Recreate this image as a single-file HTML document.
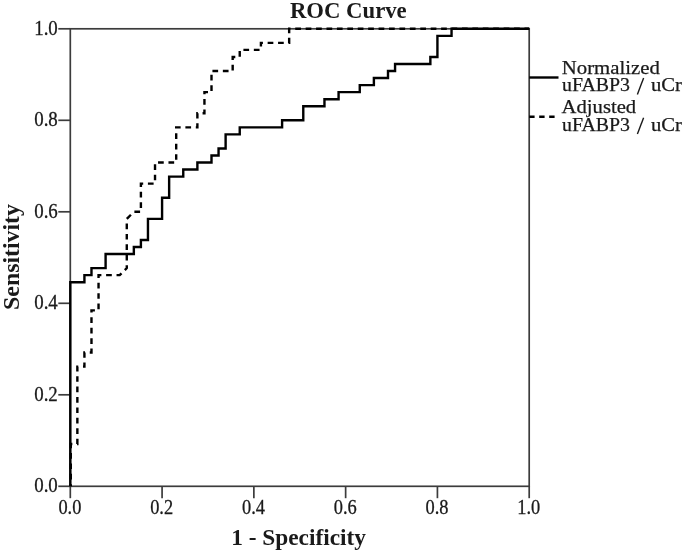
<!DOCTYPE html>
<html><head><meta charset="utf-8"><style>
html,body{margin:0;padding:0;background:#fff;}
svg{display:block;will-change:transform;}
text{font-family:"Liberation Serif",serif;fill:#1a1a1a;}
</style></head><body>
<svg width="685" height="553" viewBox="0 0 685 553">
<rect x="0" y="0" width="685" height="553" fill="#fff"/>
<g stroke="#3c3c3c" stroke-width="1.7" fill="none">
<rect x="70.3" y="28.8" width="458.90" height="457.50"/>
<line x1="58.3" y1="486.30" x2="70.3" y2="486.30"/><line x1="70.30" y1="486.3" x2="70.30" y2="498.2"/><line x1="58.3" y1="394.80" x2="70.3" y2="394.80"/><line x1="162.08" y1="486.3" x2="162.08" y2="498.2"/><line x1="58.3" y1="303.30" x2="70.3" y2="303.30"/><line x1="253.86" y1="486.3" x2="253.86" y2="498.2"/><line x1="58.3" y1="211.80" x2="70.3" y2="211.80"/><line x1="345.64" y1="486.3" x2="345.64" y2="498.2"/><line x1="58.3" y1="120.30" x2="70.3" y2="120.30"/><line x1="437.42" y1="486.3" x2="437.42" y2="498.2"/><line x1="58.3" y1="28.80" x2="70.3" y2="28.80"/><line x1="529.20" y1="486.3" x2="529.20" y2="498.2"/>
</g>
<g font-size="20" stroke="#1a1a1a" stroke-width="0.3">
<text x="57.8" y="492.00" text-anchor="end" textLength="23.6" lengthAdjust="spacingAndGlyphs">0.0</text><text x="57.8" y="400.50" text-anchor="end" textLength="23.6" lengthAdjust="spacingAndGlyphs">0.2</text><text x="57.8" y="309.00" text-anchor="end" textLength="23.6" lengthAdjust="spacingAndGlyphs">0.4</text><text x="57.8" y="217.50" text-anchor="end" textLength="23.6" lengthAdjust="spacingAndGlyphs">0.6</text><text x="57.8" y="126.00" text-anchor="end" textLength="23.6" lengthAdjust="spacingAndGlyphs">0.8</text><text x="57.8" y="34.50" text-anchor="end" textLength="23.6" lengthAdjust="spacingAndGlyphs">1.0</text>
<text x="69.90" y="513.8" text-anchor="middle" textLength="23.0" lengthAdjust="spacingAndGlyphs">0.0</text><text x="161.68" y="513.8" text-anchor="middle" textLength="23.0" lengthAdjust="spacingAndGlyphs">0.2</text><text x="253.46" y="513.8" text-anchor="middle" textLength="23.0" lengthAdjust="spacingAndGlyphs">0.4</text><text x="345.24" y="513.8" text-anchor="middle" textLength="23.0" lengthAdjust="spacingAndGlyphs">0.6</text><text x="437.02" y="513.8" text-anchor="middle" textLength="23.0" lengthAdjust="spacingAndGlyphs">0.8</text><text x="528.80" y="513.8" text-anchor="middle" textLength="23.0" lengthAdjust="spacingAndGlyphs">1.0</text>
</g>
<path d="M70.30 486.30 L70.30 282.18 L84.42 282.18 L84.42 275.15 L91.48 275.15 L91.48 268.11 L105.60 268.11 L105.60 254.03 L133.84 254.03 L133.84 246.99 L140.90 246.99 L140.90 239.95 L147.96 239.95 L147.96 218.84 L162.08 218.84 L162.08 197.72 L169.14 197.72 L169.14 176.61 L183.26 176.61 L183.26 169.57 L197.38 169.57 L197.38 162.53 L211.50 162.53 L211.50 155.49 L218.56 155.49 L218.56 148.45 L225.62 148.45 L225.62 134.38 L239.74 134.38 L239.74 127.34 L282.10 127.34 L282.10 120.30 L303.28 120.30 L303.28 106.22 L324.46 106.22 L324.46 99.18 L338.58 99.18 L338.58 92.15 L359.76 92.15 L359.76 85.11 L373.88 85.11 L373.88 78.07 L388.00 78.07 L388.00 71.03 L395.06 71.03 L395.06 63.99 L430.36 63.99 L430.36 56.95 L437.42 56.95 L437.42 35.84 L451.54 35.84 L451.54 28.80 L529.20 28.80" fill="none" stroke="#000" stroke-width="2.4" stroke-linejoin="miter"/>
<path d="M70.80 486.30 L70.80 444.07 L77.36 444.07 L77.36 366.65 L84.42 366.65 L84.42 352.57 L91.48 352.57 L91.48 310.34 L98.54 310.34 L98.54 275.15 L119.72 275.15 L126.78 268.11 L126.78 218.84 L133.84 211.80 L140.90 211.80 L140.90 183.65 L155.02 183.65 L155.02 162.53 L176.20 162.53 L176.20 127.34 L197.38 127.34 L197.38 113.26 L204.44 113.26 L204.44 92.15 L211.50 92.15 L211.50 71.03 L232.68 71.03 L232.68 56.95 L239.74 56.95 L239.74 49.92 L260.92 49.92 L260.92 42.88 L289.16 42.88 L289.16 28.80 L529.20 28.80" fill="none" stroke="#000" stroke-width="2.4" stroke-dasharray="5.7 4.72" stroke-dashoffset="3.62"/>
<text x="348.3" y="18.2" text-anchor="middle" font-weight="bold" font-size="23" textLength="116.8" lengthAdjust="spacingAndGlyphs">ROC Curve</text>
<text x="298.6" y="544.9" text-anchor="middle" font-weight="bold" font-size="23" textLength="134.8" lengthAdjust="spacingAndGlyphs">1 - Specificity</text>
<text transform="translate(18.8 257) rotate(-90)" x="0" y="0" text-anchor="middle" font-weight="bold" font-size="23" textLength="105.8" lengthAdjust="spacingAndGlyphs">Sensitivity</text>
<line x1="529.2" y1="77.5" x2="558.5" y2="77.5" stroke="#000" stroke-width="2.4"/>
<line x1="529.2" y1="116.7" x2="555.2" y2="116.7" stroke="#000" stroke-width="2.4" stroke-dasharray="5.4 4.6"/>
<g font-size="19" stroke="#1a1a1a" stroke-width="0.25">
<text x="561.8" y="73.7" textLength="98" lengthAdjust="spacingAndGlyphs">Normalized</text>
<text x="562" y="91.4" textLength="68" lengthAdjust="spacingAndGlyphs">uFABP3</text><text x="651" y="91.4" textLength="31" lengthAdjust="spacingAndGlyphs">uCr</text><line x1="643.6" y1="78.1" x2="637.4" y2="94.5" stroke="#1a1a1a" stroke-width="1.4"/>
<text x="561.6" y="113" textLength="74.6" lengthAdjust="spacingAndGlyphs">Adjusted</text>
<text x="562" y="131" textLength="68" lengthAdjust="spacingAndGlyphs">uFABP3</text><text x="651" y="131" textLength="31" lengthAdjust="spacingAndGlyphs">uCr</text><line x1="643.6" y1="117.7" x2="637.4" y2="134.1" stroke="#1a1a1a" stroke-width="1.4"/>
</g>
</svg>
</body></html>
